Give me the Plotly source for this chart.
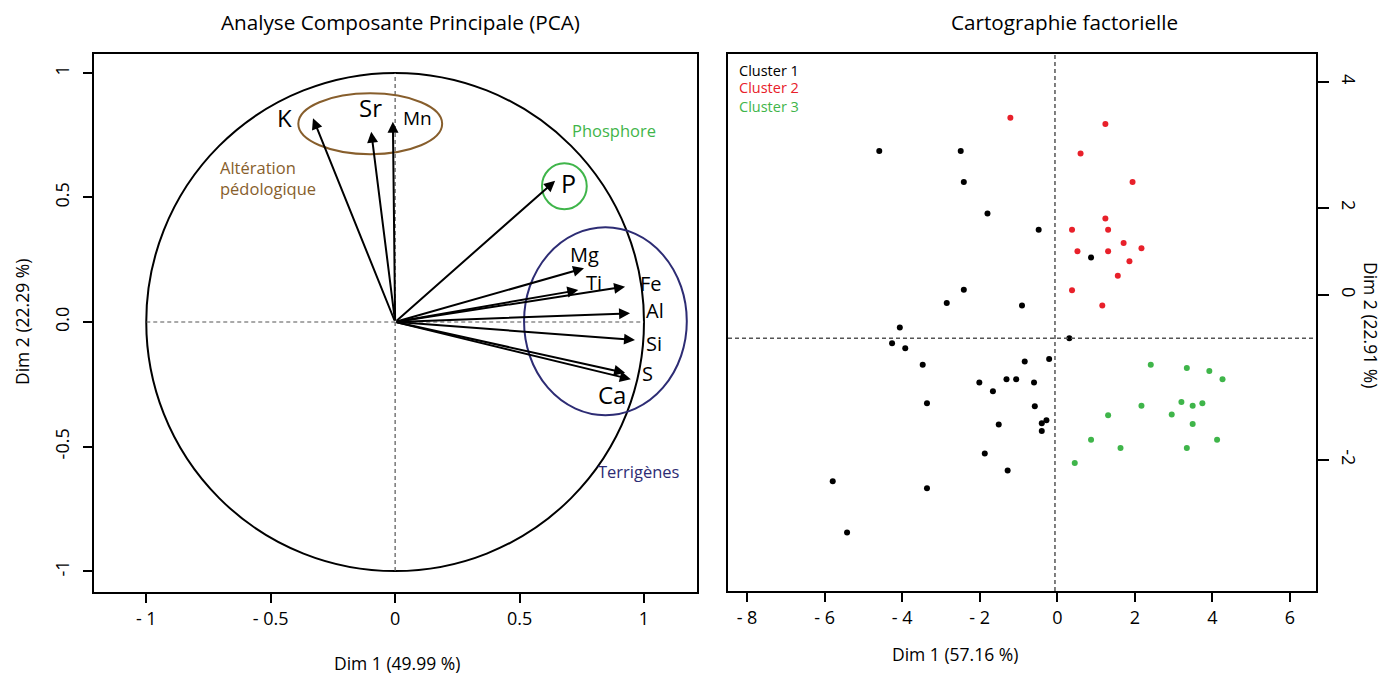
import plotly.graph_objects as go
from plotly.subplots import make_subplots

FONT = "Open Sans"
W, H = 1394, 675
OFF = 8  # the page body adds an 8px margin around the figure


def px_x(p):
    return (p - OFF) / W


def px_y(p):
    return 1 - (p - OFF) / H


# --- PCA variables (correlation circle) ---
var_names = ["K", "Sr", "Mn", "P", "Mg", "Ti", "Fe", "Al", "Si", "S", "Ca"]
var_dim1 = [-0.33, -0.096, -0.009, 0.643, 0.759, 0.736, 0.924, 0.944, 0.964, 0.924, 0.947]
var_dim2 = [0.818, 0.764, 0.804, 0.567, 0.216, 0.128, 0.142, 0.035, -0.072, -0.204, -0.230]
label_x = [-0.445, -0.10, 0.09, 0.695, 0.76, 0.80, 1.03, 1.045, 1.04, 1.015, 0.87]
label_y = [0.82, 0.86, 0.82, 0.56, 0.27, 0.16, 0.155, 0.045, -0.085, -0.205, -0.29]
label_size = [24, 24, 19, 25, 20, 20, 20, 20, 20, 20, 24]

# group ellipses: centre x, centre y, radius x, radius y
groups = ["Altération<br>pédologique", "Phosphore", "Terrigènes"]
group_colors = ["#875e2c", "#3fb54a", "#2d2c74"]
group_cx = [-0.10, 0.68, 0.845]
group_cy = [0.796, 0.545, 0.003]
group_rx = [0.289, 0.090, 0.327]
group_ry = [0.122, 0.092, 0.377]
group_label_x = [-0.71, 0.88, 0.98]
group_label_y = [0.58, 0.77, -0.60]

# --- individuals (factor map) ---
c1_x = [-4.59, -2.49, -2.41, -1.80, -0.48, -2.41, -2.85, -0.91, -4.06, 0.87, 0.31,
        -4.26, -3.92, -3.47, -0.21, -0.84, -2.01, -1.31, -1.06, -0.60, -1.66, -3.36,
        -0.58, -1.51, -0.28, -0.40, -0.40, -1.87, -1.28, -5.79, -3.36, -5.42]
c1_y = [2.90, 2.90, 2.41, 1.91, 1.65, 0.70, 0.49, 0.45, 0.10, 1.21, -0.07,
        -0.15, -0.23, -0.49, -0.40, -0.44, -0.77, -0.72, -0.72, -0.77, -0.91, -1.10,
        -1.15, -1.44, -1.37, -1.42, -1.54, -1.90, -2.17, -2.34, -2.45, -3.15]
c2_x = [-1.21, 1.24, 0.60, 1.94, 1.24, 0.38, 1.31, 1.71, 2.17, 0.52, 1.31, 1.86, 1.56, 0.38, 1.16]
c2_y = [3.43, 3.33, 2.86, 2.41, 1.83, 1.65, 1.65, 1.44, 1.36, 1.31, 1.31, 1.15, 0.92, 0.69, 0.45]
c3_x = [2.41, 3.34, 3.92, 4.26, 2.17, 3.20, 3.49, 3.74, 1.31, 2.95, 3.49, 0.87, 1.63, 3.34, 4.12, 0.45]
c3_y = [-0.49, -0.54, -0.59, -0.72, -1.14, -1.08, -1.14, -1.10, -1.29, -1.28, -1.43, -1.68, -1.81, -1.81, -1.68, -2.05]
cluster_names = ["Cluster 1", "Cluster 2", "Cluster 3"]
cluster_colors = ["black", "#e8202a", "#3fb54a"]

left_ticks = [-1, -0.5, 0, 0.5, 1]
left_xtext = ["- 1", "- 0.5", "0", "0.5", "1"]
left_ytext = ["-1", "-0.5", "0.0", "0.5", "1"]
right_xticks = [-8, -6, -4, -2, 0, 2, 4, 6]
right_xtext = ["- 8", "- 6", "- 4", "- 2", "0", "2", "4", "6"]
right_yticks = [4, 2, 0.62, -2]
right_ytext = ["4", "2", "0", "-2"]

fig = make_subplots(rows=1, cols=2)

for xs, ys, name, col in zip([c1_x, c2_x, c3_x], [c1_y, c2_y, c3_y], cluster_names, cluster_colors):
    fig.add_trace(
        go.Scatter(x=xs, y=ys, mode="markers", name=name, marker=dict(color=col, size=6)),
        row=1,
        col=2,
    )

# correlation circle + axes lines
fig.add_shape(type="circle", xref="x", yref="y", x0=-1, x1=1, y0=-1, y1=1, line=dict(color="black", width=2))
fig.add_shape(type="line", xref="x", yref="y", x0=-1, x1=1, y0=0, y1=0,
              line=dict(color="#555", width=1.2, dash="4px,3px"))
fig.add_shape(type="line", xref="x", yref="y", x0=0, x1=0, y0=-1, y1=1,
              line=dict(color="#555", width=1.2, dash="4px,3px"))

for cx, cy, rx, ry, col in zip(group_cx, group_cy, group_rx, group_ry, group_colors):
    fig.add_shape(type="circle", xref="x", yref="y", x0=cx - rx, x1=cx + rx, y0=cy - ry, y1=cy + ry,
                  line=dict(color=col, width=2))

for g, col, gx, gy in zip(groups, group_colors, group_label_x, group_label_y):
    fig.add_annotation(x=gx, y=gy, xref="x", yref="y", text=g, showarrow=False, align="left",
                       xanchor="left" if "<br>" in g else "center",
                       font=dict(family=FONT, size=16.5, color=col))

for name, x, y, lx, ly, s in zip(var_names, var_dim1, var_dim2, label_x, label_y, label_size):
    fig.add_annotation(x=x, y=y, ax=0, ay=0, xref="x", yref="y", axref="x", ayref="y", text="",
                       showarrow=True, arrowhead=2, arrowsize=1.1, arrowwidth=2, arrowcolor="black")
    fig.add_annotation(x=lx, y=ly, xref="x", yref="y", text=name, showarrow=False,
                       font=dict(family=FONT, size=s, color="black"))

# factor map reference lines
fig.add_shape(type="line", xref="x2 domain", yref="y2", x0=0, x1=1, y0=-0.07, y1=-0.07,
              line=dict(color="#555", width=1.5, dash="4px,3px"))
fig.add_shape(type="line", xref="x2", yref="y2 domain", x0=-0.06, x1=-0.06, y0=0, y1=1,
              line=dict(color="#555", width=1.5, dash="4px,3px"))

for i, (name, col) in enumerate(zip(cluster_names, cluster_colors)):
    fig.add_annotation(x=px_x(737), y=px_y(70 + 18 * i), xref="paper", yref="paper", text=name,
                       showarrow=False, xanchor="left", yanchor="middle",
                       font=dict(family=FONT, size=14.5, color=col))

# titles
for txt, x, y, ang, s in [
    ("Analyse Composante Principale (PCA)", 400, 22, 0, 20.7),
    ("Cartographie factorielle", 1064, 22, 0, 20.7),
    ("Dim 1 (49.99 %)", 397, 663, 0, 17.5),
    ("Dim 1 (57.16 %)", 955, 654, 0, 17.5),
    ("Dim 2 (22.29 %)", 22, 322, -90, 17.5),
    ("Dim 2 (22.91 %)", 1371, 325, 90, 17.5),
]:
    fig.add_annotation(x=px_x(x), y=px_y(y), xref="paper", yref="paper", text=txt, showarrow=False,
                       textangle=ang, xanchor="center", yanchor="middle",
                       font=dict(family=FONT, size=s, color="black"))

axis_common = dict(showline=True, linecolor="black", linewidth=2, mirror=True, showgrid=False, zeroline=False,
                   ticks="outside", ticklen=9, tickwidth=2, tickcolor="black", automargin=False,
                   tickfont=dict(family=FONT, size=18, color="black"))

fig.update_xaxes(axis_common)
fig.update_yaxes(axis_common)
fig.update_xaxes(domain=[px_x(94), px_x(697)], range=[-1.21, 1.213], tickvals=left_ticks, ticktext=left_xtext,
                 row=1, col=1)
fig.update_yaxes(domain=[px_y(592), px_y(54)], range=[-1.084, 1.076], tickvals=left_ticks, ticktext=left_ytext,
                 tickangle=-90, ticklabelstandoff=7, row=1, col=1)
fig.update_xaxes(domain=[px_x(728), px_x(1316)], range=[-8.49, 6.67], tickvals=right_xticks,
                 ticktext=right_xtext, row=1, col=2)
fig.update_yaxes(domain=[px_y(591), px_y(54)], range=[-4.08, 4.44], tickvals=right_yticks, ticktext=right_ytext,
                 tickangle=90, side="right", ticklen=11, ticklabelstandoff=6, row=1, col=2)

fig.update_layout(
    width=W,
    height=H,
    margin=dict(l=0, r=0, t=0, b=0),
    plot_bgcolor="white",
    paper_bgcolor="white",
    showlegend=False,
    font=dict(family=FONT, color="black"),
)

fig.write_html("out.html")
